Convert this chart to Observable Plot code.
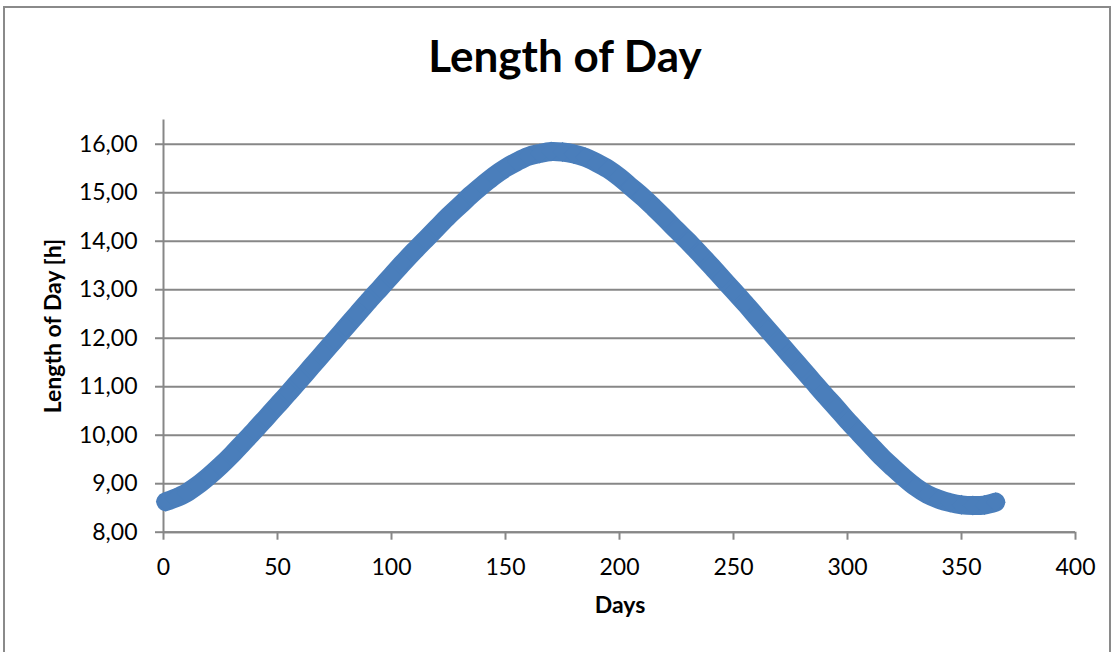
<!DOCTYPE html>
<html>
<head>
<meta charset="utf-8">
<script src="https://cdn.jsdelivr.net/npm/d3@7"></script>
<script src="https://cdn.jsdelivr.net/npm/@observablehq/plot@0.6"></script>
<style>
  html, body { margin: 0; padding: 0; background: #ffffff; }
  #wrap { position: relative; width: 1120px; height: 652px; overflow: hidden; background: #ffffff; font-family: Lato, "Open Sans", sans-serif; }
  #frame { position: absolute; left: 3px; top: 6px; width: 1108px; height: 670px; border: 2px solid #8a8a8a; box-sizing: border-box; }
  #chart { position: absolute; left: 0; top: 0; }
  #labels { position: absolute; left: 0; top: 0; }
</style>
</head>
<body>
<div id="wrap">
  <div id="frame"></div>
  <div id="chart"></div>
  <svg id="labels" width="1120" height="652"></svg>
</div>
<script>
// Day of year
const days = [1, 5, 10, 15, 20, 25, 30, 35, 40, 45, 50, 55, 60, 65, 70, 75, 80, 85, 90, 95,
  100, 105, 110, 115, 120, 125, 130, 135, 140, 145, 150, 155, 160, 165, 170, 175, 180, 185, 190, 195,
  200, 205, 210, 215, 220, 225, 230, 235, 240, 245, 250, 255, 260, 265, 270, 275, 280, 285, 290, 295,
  300, 305, 310, 315, 320, 325, 330, 335, 340, 345, 350, 355, 360, 365];
// Length of day [h]
const hours = [8.63, 8.70, 8.81, 8.97, 9.16, 9.37, 9.60, 9.85, 10.10, 10.36, 10.62, 10.88, 11.15, 11.42, 11.69, 11.96, 12.23, 12.50, 12.77, 13.03,
  13.29, 13.55, 13.80, 14.04, 14.28, 14.52, 14.74, 14.96, 15.16, 15.35, 15.51, 15.64, 15.75, 15.81, 15.85, 15.84, 15.80, 15.73, 15.62, 15.49,
  15.32, 15.12, 14.92, 14.70, 14.47, 14.23, 14.00, 13.75, 13.50, 13.24, 12.98, 12.72, 12.45, 12.18, 11.91, 11.64, 11.37, 11.10, 10.83, 10.57,
  10.30, 10.05, 9.80, 9.55, 9.33, 9.12, 8.93, 8.78, 8.68, 8.61, 8.565, 8.55, 8.56, 8.62];
const yTicks = [8, 9, 10, 11, 12, 13, 14, 15, 16];
const xTicks = [0, 50, 100, 150, 200, 250, 300, 350, 400];
const titleText = "Length of Day";
const xLabel = "Days";
const yLabel = "Length of Day [h]";

const data = days.map((d, i) => ({day: d, hours: hours[i]}));
const gray = "#878787";
const blue = "#4a7ebb";
const font = "Lato, 'Open Sans', sans-serif";

const plot = Plot.plot({
  width: 1120,
  height: 652,
  marginLeft: 163,
  marginRight: 45,
  marginTop: 119.5,
  marginBottom: 120.3,
  style: {fontSize: "23px", fontFamily: font, color: "#000", background: "transparent"},
  x: {domain: [0, 400]},
  y: {domain: [8, 16.5]},
  marks: [
    Plot.gridY(yTicks, {stroke: gray, strokeOpacity: 1, strokeWidth: 2}),
    Plot.ruleX([0], {stroke: gray, strokeWidth: 2}),
    Plot.ruleY([8], {stroke: gray, strokeWidth: 2}),
    Plot.axisY({ticks: yTicks, tickSize: 8, tickPadding: 18, stroke: gray, strokeWidth: 2, fill: "#000",
      tickFormat: d => d.toFixed(2).replace(".", ","), label: null}),
    Plot.axisX({ticks: xTicks, tickSize: 8, tickPadding: 18, stroke: gray, strokeWidth: 2, fill: "#000",
      tickFormat: d => String(d), label: null}),
    Plot.line(data, {x: "day", y: "hours", stroke: blue, strokeWidth: 19, curve: "catmull-rom", strokeLinejoin: "round"}),
    Plot.dot(data, {x: "day", y: "hours", symbol: "diamond2", r: 9, fill: blue, stroke: "none"})
  ]
});
document.getElementById("chart").appendChild(plot);

const svg = d3.select("#labels");
svg.append("text").attr("x", 565).attr("y", 72).attr("text-anchor", "middle")
  .attr("font-family", font).attr("font-weight", "bold").attr("font-size", 44)
  .text(titleText);
svg.append("text").attr("x", 620).attr("y", 613).attr("text-anchor", "middle")
  .attr("font-family", font).attr("font-weight", "bold").attr("font-size", 23)
  .text(xLabel);
svg.append("text").attr("transform", "translate(61,326) rotate(-90)").attr("text-anchor", "middle")
  .attr("font-family", font).attr("font-weight", "bold").attr("font-size", 23)
  .text(yLabel);
</script>
</body>
</html>
